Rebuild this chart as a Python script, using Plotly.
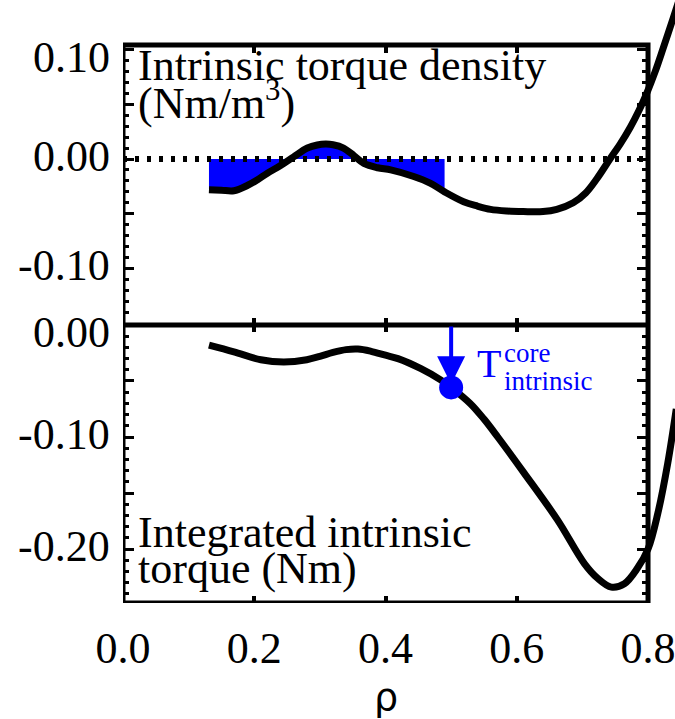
import numpy as np
import plotly.graph_objects as go

# ---- profiles versus normalised radius rho ----
rho_density = [0.131, 0.150, 0.169, 0.190, 0.205, 0.220, 0.240, 0.260, 0.281, 0.296,
               0.309, 0.320, 0.336, 0.352, 0.367, 0.388, 0.408, 0.443, 0.468, 0.490,
               0.519, 0.540, 0.560, 0.585, 0.610, 0.640, 0.661, 0.686, 0.705, 0.722,
               0.742, 0.758, 0.773, 0.786, 0.798, 0.811, 0.823, 0.838, 0.850]
torque_density = [-0.028, -0.0285, -0.029, -0.024, -0.019, -0.013, -0.006, 0.002, 0.010, 0.0128,
                  0.0136, 0.013, 0.010, 0.003, -0.004, -0.008, -0.010, -0.016, -0.022, -0.030,
                  -0.039, -0.043, -0.046, -0.0475, -0.048, -0.048, -0.046, -0.040, -0.031, -0.018,
                  0.000, 0.014, 0.029, 0.044, 0.060, 0.080, 0.101, 0.128, 0.150]

rho_integrated = [0.131, 0.169, 0.210, 0.245, 0.280, 0.300, 0.320, 0.340, 0.358, 0.378,
                  0.400, 0.419, 0.454, 0.484, 0.500, 0.529, 0.550, 0.571, 0.611, 0.662,
                  0.703, 0.723, 0.744, 0.764, 0.784, 0.800, 0.815, 0.830, 0.843]
torque_integrated = [-0.018, -0.024, -0.031, -0.033, -0.031, -0.028, -0.0245, -0.022, -0.0215, -0.0235,
                     -0.027, -0.030, -0.039, -0.049, -0.0557, -0.070, -0.084, -0.100, -0.132, -0.174,
                     -0.213, -0.226, -0.234, -0.231, -0.217, -0.200, -0.168, -0.1235, -0.075]

rho_core = 0.5
torque_core = -0.0557
fill_edge = 0.49

x_tick_vals = [0.0, 0.2, 0.4, 0.6, 0.8]
x_tick_text = ["0.0", "0.2", "0.4", "0.6", "0.8"]
top_tick_vals = [-0.10, -0.05, 0.0, 0.05, 0.10]
top_label_vals = [-0.10, 0.0, 0.10]
top_label_text = ["-0.10", "0.00", "0.10"]
bot_tick_vals = [-0.20, -0.15, -0.10, -0.05, 0.0]
bot_label_vals = [-0.20, -0.10, 0.0]
bot_label_text = ["-0.20", "-0.10", "0.00"]

# ---- geometry ----
W, H = 675, 719
ML, MB = 123, 116
PLOT_H = H - MB
X_MAX = 0.8411
X_FRAME = 0.8
SPLIT = 0.46103
TOP_RANGE = [-0.1516, 0.1452]
TOP_FRAME = 0.1041
BOT_RANGE = [-0.2482, 0.0]

right_pos = X_FRAME / X_MAX
top_frame_pos = SPLIT + (TOP_FRAME - TOP_RANGE[0]) / (TOP_RANGE[1] - TOP_RANGE[0]) * (1 - SPLIT)

SERIF = "Liberation Serif, Times New Roman, serif"
BLUE = "#0000ff"
FS = 44


def minor_vals(lo, hi):
    v = np.round(np.arange(lo, hi + 1e-9, 0.01), 3)
    return [float(t) for t in v if abs(round(t / 0.05) * 0.05 - t) > 1e-6]


fig = go.Figure()

# shaded core part of the torque density
sel = [i for i, r in enumerate(rho_density) if r <= fill_edge]
fx = [rho_density[i] for i in sel]
fy = [torque_density[i] for i in sel]
fig.add_trace(go.Scatter(x=fx + [fx[-1], fx[0]], y=fy + [0, 0], fill="toself",
                         fillcolor=BLUE, mode="none", xaxis="x", yaxis="y",
                         showlegend=False, hoverinfo="skip"))
fig.add_trace(go.Scatter(x=rho_density, y=torque_density, mode="lines",
                         line=dict(color="black", width=7, shape="spline", smoothing=1.0),
                         xaxis="x", yaxis="y", showlegend=False))
# dotted zero reference
fig.add_trace(go.Scatter(x=[0, X_FRAME], y=[0, 0], mode="lines",
                         line=dict(color="black", width=6, dash="4px,8px"),
                         xaxis="x3", yaxis="y3", showlegend=False, hoverinfo="skip"))

# integrated torque
fig.add_trace(go.Scatter(x=rho_integrated, y=torque_integrated, mode="lines",
                         line=dict(color="black", width=7, shape="spline", smoothing=1.0),
                         xaxis="x2", yaxis="y2", showlegend=False))
fig.add_trace(go.Scatter(x=[rho_core], y=[torque_core], mode="markers",
                         marker=dict(color=BLUE, size=24), xaxis="x4", yaxis="y4",
                         showlegend=False))

tick_common = dict(ticks="inside", tickcolor="black", showgrid=False, zeroline=False,
                   showline=False, automargin=False,
                   tickfont=dict(family=SERIF, size=FS, color="black"))

xt = dict(tickmode="array", tickvals=[0.2, 0.4, 0.6], ticklen=7, tickwidth=4,
          showticklabels=False, range=[0, X_MAX])
yminor_top = dict(tickmode="array", tickvals=minor_vals(-0.15, 0.10), ticks="inside",
                  ticklen=6, tickwidth=3, tickcolor="black")
yminor_bot = dict(tickmode="array", tickvals=minor_vals(-0.24, 0.0), ticks="inside",
                  ticklen=6, tickwidth=3, tickcolor="black")
ymajor = dict(tickmode="array", ticklen=11, tickwidth=3, showticklabels=False)

fig.update_layout(
    width=W, height=H,
    margin=dict(l=ML, r=0, t=0, b=MB, pad=0, autoexpand=False),
    paper_bgcolor="white", plot_bgcolor="white",
    xaxis=dict(**tick_common, **xt, anchor="y", domain=[0, 1]),
    xaxis3=dict(**tick_common, **xt, overlaying="x", anchor="free",
                position=top_frame_pos, side="top"),
    xaxis2=dict(**tick_common, range=[0, X_MAX], anchor="y2", domain=[0, 1],
                tickmode="array", tickvals=x_tick_vals, ticktext=x_tick_text,
                ticklen=7, tickwidth=4, ticklabelstandoff=15,
                ticklabeloverflow="allow"),
    xaxis4=dict(**tick_common, **xt, overlaying="x2", anchor="y2", side="top"),
    yaxis=dict(**tick_common, **ymajor, range=TOP_RANGE, domain=[SPLIT, 1], anchor="x",
               tickvals=top_tick_vals, minor=yminor_top),
    yaxis3=dict(**tick_common, **ymajor, range=TOP_RANGE, overlaying="y", anchor="free",
                position=right_pos, side="right", tickvals=top_tick_vals,
                minor=yminor_top),
    yaxis2=dict(**tick_common, **ymajor, range=BOT_RANGE, domain=[0, SPLIT], anchor="x2",
                tickvals=bot_tick_vals, minor=yminor_bot),
    yaxis4=dict(**tick_common, **ymajor, range=BOT_RANGE, overlaying="y2", anchor="free",
                position=right_pos, side="right", tickvals=bot_tick_vals,
                minor=yminor_bot),
)

# panel frames
fig.add_shape(type="rect", xref="x", yref="y", x0=0, x1=X_FRAME,
              y0=TOP_RANGE[0], y1=TOP_FRAME, line=dict(color="black", width=5))
fig.add_shape(type="rect", xref="x2", yref="y2", x0=0, x1=X_FRAME,
              y0=BOT_RANGE[0], y1=BOT_RANGE[1], line=dict(color="black", width=5))


# y tick labels; a label sitting on a panel's upper edge is nudged down inside it
def y_labels(vals, texts, xref, yref, upper):
    for v, t in zip(vals, texts):
        shift = -8 if v >= upper - 0.011 else 3
        fig.add_annotation(text=t, x=0, y=v, xref=xref, yref=yref, showarrow=False,
                           xanchor="right", yanchor="middle", xshift=-11, yshift=shift,
                           font=dict(family=SERIF, size=FS, color="black"))


y_labels(top_label_vals, top_label_text, "x", "y", TOP_FRAME)
y_labels(bot_label_vals, bot_label_text, "x2", "y2", BOT_RANGE[1])


def label(text, x, y, xref, yref, size=FS, color="black", family=SERIF):
    fig.add_annotation(text=text, x=x, y=y, xref=xref, yref=yref, showarrow=False,
                       xanchor="left", yanchor="middle",
                       font=dict(family=family, size=size, color=color))


label("Intrinsic torque density", 0.0195, 0.0858, "x", "y")
label("(Nm/m<sup>3</sup>)", 0.0195, 0.0530, "x", "y")
label("Integrated intrinsic", 0.0195, -0.1857, "x2", "y2")
label("torque (Nm)", 0.0195, -0.2170, "x2", "y2")

label("T", 0.537, -0.0348, "x2", "y2", size=40, color=BLUE)
label("core", 0.577, -0.0246, "x2", "y2", size=27, color=BLUE)
label("intrinsic", 0.577, -0.0496, "x2", "y2", size=27, color=BLUE)

# arrow marking the core edge
fig.add_annotation(x=rho_core, y=-0.053, ax=rho_core, ay=0.0, xref="x4", yref="y4",
                   axref="x4", ayref="y4", text="", showarrow=True, arrowhead=2,
                   arrowsize=1.4, arrowwidth=4, arrowcolor=BLUE, standoff=0)

# x-axis title, placed below the tick labels
fig.add_annotation(text="ρ", x=0.4, y=(PLOT_H - 697) / PLOT_H, xref="x2", yref="paper",
                   showarrow=False, xanchor="center", yanchor="middle",
                   font=dict(family="DejaVu Sans", size=38, color="black"))

fig.write_html("out.html")
